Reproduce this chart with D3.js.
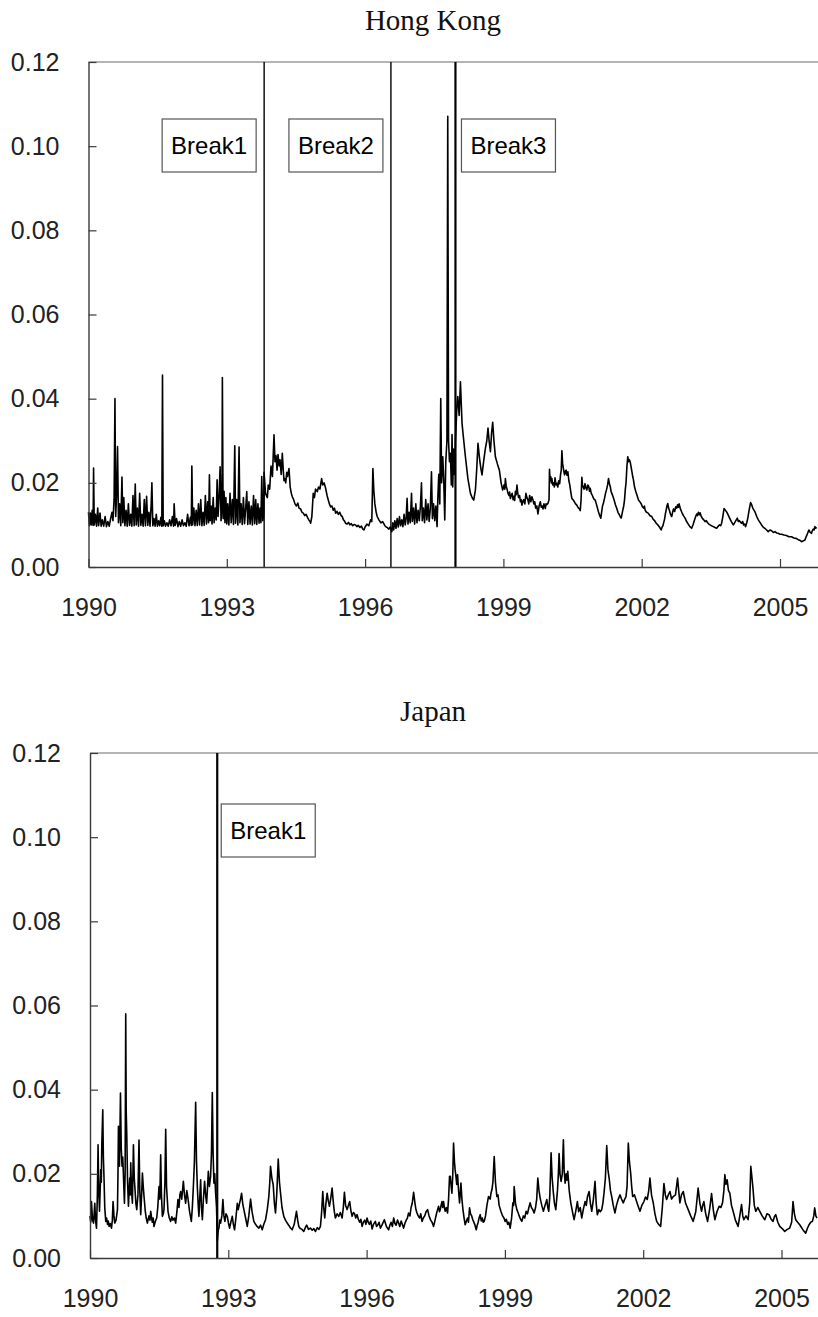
<!DOCTYPE html>
<html>
<head>
<meta charset="utf-8">
<script src="https://cdn.jsdelivr.net/npm/d3@7"></script>
<style>
  body { margin: 0; background: #fff; }
</style>
</head>
<body>
<div id="chart"></div>
<script>
// tick labels
const yearTicks = [1990, 1993, 1996, 1999, 2002, 2005]
const valueTicks = [0, 0.02, 0.04, 0.06, 0.08, 0.10, 0.12]

// structural breaks (decimal year) and their labels
const hongKongBreaks = [1993.81, 1996.56, 1997.96]
const hongKongBreakLabels = ["Break1", "Break2", "Break3"]
const japanBreaks = [1992.76]
const japanBreakLabels = ["Break1"]

// volatility series, [decimal year, value]
const hongKong = [
  [1990.000, .0130], [1990.020, .0098], [1990.040, .0128], [1990.060, .0100], [1990.080, .0135],
  [1990.100, .0099], [1990.110, .0235], [1990.125, .0100], [1990.150, .0125], [1990.175, .0097],
  [1990.200, .0140], [1990.220, .0098], [1990.250, .0128], [1990.275, .0097], [1990.300, .0112],
  [1990.330, .0097], [1990.360, .0120], [1990.390, .0096], [1990.420, .0108], [1990.450, .0097],
  [1990.480, .0115], [1990.510, .0130], [1990.530, .0110], [1990.555, .0160], [1990.574, .0400],
  [1990.590, .0120], [1990.610, .0175], [1990.630, .0286], [1990.650, .0105], [1990.675, .0150],
  [1990.700, .0098], [1990.726, .0214], [1990.745, .0105], [1990.765, .0165], [1990.790, .0098],
  [1990.815, .0135], [1990.840, .0097], [1990.865, .0150], [1990.890, .0099], [1990.915, .0125],
  [1990.940, .0097], [1990.965, .0170], [1990.990, .0098], [1991.014, .0197], [1991.035, .0100],
  [1991.060, .0140], [1991.085, .0097], [1991.110, .0175], [1991.135, .0099], [1991.160, .0125],
  [1991.185, .0097], [1991.210, .0160], [1991.235, .0098], [1991.260, .0168], [1991.285, .0099],
  [1991.310, .0130], [1991.335, .0097], [1991.360, .0150], [1991.375, .0200], [1991.395, .0098],
  [1991.420, .0115], [1991.445, .0097], [1991.470, .0125], [1991.495, .0097], [1991.520, .0110],
  [1991.545, .0098], [1991.570, .0118], [1991.590, .0097], [1991.605, .0456], [1991.620, .0098],
  [1991.645, .0110], [1991.670, .0097], [1991.700, .0105], [1991.730, .0097], [1991.760, .0112],
  [1991.790, .0098], [1991.820, .0120], [1991.845, .0097], [1991.858, .0150], [1991.880, .0099],
  [1991.910, .0115], [1991.940, .0096], [1991.970, .0108], [1992.000, .0097], [1992.030, .0112],
  [1992.060, .0098], [1992.090, .0105], [1992.120, .0097], [1992.150, .0125], [1992.180, .0098],
  [1992.210, .0118], [1992.230, .0099], [1992.242, .0240], [1992.260, .0100], [1992.285, .0140],
  [1992.310, .0098], [1992.335, .0135], [1992.360, .0099], [1992.385, .0150], [1992.410, .0100],
  [1992.435, .0160], [1992.460, .0098], [1992.485, .0130], [1992.510, .0099], [1992.535, .0170],
  [1992.560, .0102], [1992.585, .0155], [1992.605, .0105], [1992.623, .0219], [1992.640, .0110],
  [1992.660, .0145], [1992.680, .0102], [1992.705, .0165], [1992.725, .0105], [1992.750, .0140],
  [1992.770, .0112], [1992.790, .0207], [1992.810, .0120], [1992.830, .0160], [1992.855, .0238],
  [1992.875, .0110], [1992.895, .0150], [1992.904, .0450], [1992.920, .0115], [1992.940, .0180],
  [1992.960, .0105], [1992.980, .0165], [1993.000, .0102], [1993.020, .0150], [1993.045, .0100],
  [1993.070, .0175], [1993.095, .0105], [1993.120, .0160], [1993.145, .0101], [1993.173, .0288],
  [1993.190, .0104], [1993.215, .0160], [1993.240, .0100], [1993.266, .0285], [1993.285, .0105],
  [1993.310, .0150], [1993.335, .0101], [1993.360, .0165], [1993.385, .0103], [1993.410, .0140],
  [1993.433, .0179], [1993.455, .0101], [1993.480, .0155], [1993.505, .0102], [1993.530, .0145],
  [1993.555, .0100], [1993.580, .0170], [1993.605, .0103], [1993.628, .0160], [1993.650, .0101],
  [1993.675, .0150], [1993.700, .0104], [1993.720, .0140], [1993.740, .0105], [1993.758, .0215],
  [1993.780, .0110], [1993.800, .0125], [1993.808, .0225], [1993.840, .0175], [1993.879, .0165],
  [1993.900, .0195], [1993.930, .0185], [1993.959, .0240], [1993.990, .0215], [1994.024, .0314],
  [1994.045, .0250], [1994.068, .0265], [1994.090, .0230], [1994.111, .0267], [1994.135, .0240],
  [1994.154, .0255], [1994.180, .0220], [1994.204, .0270], [1994.225, .0230], [1994.241, .0205],
  [1994.260, .0210], [1994.278, .0200], [1994.300, .0225], [1994.317, .0215], [1994.349, .0234],
  [1994.375, .0190], [1994.400, .0175], [1994.421, .0167], [1994.450, .0160], [1994.479, .0150],
  [1994.510, .0145], [1994.540, .0152], [1994.566, .0140], [1994.600, .0138], [1994.630, .0130],
  [1994.660, .0128], [1994.690, .0122], [1994.720, .0125], [1994.750, .0118], [1994.780, .0112],
  [1994.805, .0108], [1994.819, .0104], [1994.845, .0120], [1994.875, .0175], [1994.900, .0165],
  [1994.925, .0185], [1994.962, .0179], [1994.990, .0190], [1995.020, .0185], [1995.057, .0210],
  [1995.080, .0195], [1995.110, .0200], [1995.144, .0187], [1995.175, .0170], [1995.200, .0160],
  [1995.225, .0150], [1995.252, .0143], [1995.280, .0145], [1995.310, .0135], [1995.335, .0140],
  [1995.361, .0128], [1995.390, .0132], [1995.420, .0125], [1995.450, .0130], [1995.480, .0122],
  [1995.504, .0120], [1995.530, .0112], [1995.560, .0108], [1995.577, .0104], [1995.610, .0102],
  [1995.640, .0106], [1995.670, .0100], [1995.700, .0103], [1995.730, .0098], [1995.760, .0101],
  [1995.794, .0100], [1995.820, .0096], [1995.850, .0099], [1995.887, .0094], [1995.920, .0097],
  [1995.950, .0090], [1995.974, .0088], [1996.000, .0095], [1996.039, .0102], [1996.080, .0098],
  [1996.119, .0112], [1996.145, .0108], [1996.169, .0234], [1996.190, .0180], [1996.212, .0150],
  [1996.240, .0130], [1996.262, .0120], [1996.300, .0112], [1996.342, .0105], [1996.380, .0108],
  [1996.420, .0100], [1996.444, .0096], [1996.480, .0094], [1996.515, .0090], [1996.545, .0095],
  [1996.580, .0084], [1996.600, .0105], [1996.620, .0088], [1996.645, .0110], [1996.670, .0092],
  [1996.695, .0115], [1996.720, .0095], [1996.745, .0120], [1996.770, .0098], [1996.795, .0112],
  [1996.820, .0096], [1996.845, .0125], [1996.870, .0100], [1996.890, .0115], [1996.911, .0163],
  [1996.930, .0102], [1996.955, .0130], [1996.980, .0105], [1997.007, .0175], [1997.025, .0108],
  [1997.050, .0140], [1997.075, .0102], [1997.100, .0150], [1997.125, .0105], [1997.150, .0135],
  [1997.175, .0110], [1997.200, .0145], [1997.223, .0200], [1997.240, .0110], [1997.265, .0140],
  [1997.290, .0105], [1997.315, .0160], [1997.340, .0112], [1997.365, .0150], [1997.390, .0108],
  [1997.415, .0140], [1997.440, .0226], [1997.460, .0115], [1997.485, .0150], [1997.510, .0110],
  [1997.535, .0145], [1997.561, .0096], [1997.580, .0170], [1997.598, .0220], [1997.620, .0150],
  [1997.641, .0400], [1997.660, .0200], [1997.685, .0262], [1997.706, .0207], [1997.728, .0112],
  [1997.750, .0250], [1997.775, .0300], [1997.793, .1071], [1997.810, .0300], [1997.830, .0250],
  [1997.851, .0270], [1997.870, .0195], [1997.886, .0315], [1997.901, .0190], [1997.920, .0280],
  [1997.940, .0220], [1997.960, .0300], [1997.994, .0388], [1998.010, .0405], [1998.040, .0360],
  [1998.068, .0440], [1998.085, .0390], [1998.103, .0341], [1998.140, .0300], [1998.176, .0262],
  [1998.230, .0210], [1998.285, .0175], [1998.320, .0165], [1998.356, .0159], [1998.393, .0183],
  [1998.420, .0230], [1998.449, .0294], [1998.480, .0260], [1998.510, .0235], [1998.536, .0219],
  [1998.570, .0250], [1998.609, .0282], [1998.640, .0300], [1998.666, .0330], [1998.690, .0300],
  [1998.718, .0274], [1998.745, .0320], [1998.768, .0344], [1998.795, .0300], [1998.826, .0262],
  [1998.870, .0245], [1998.913, .0230], [1998.950, .0200], [1998.984, .0183], [1999.015, .0195],
  [1999.030, .0185], [1999.043, .0210], [1999.060, .0192], [1999.080, .0185], [1999.100, .0175],
  [1999.120, .0170], [1999.135, .0178], [1999.151, .0163], [1999.170, .0170], [1999.190, .0175],
  [1999.210, .0160], [1999.230, .0168], [1999.245, .0158], [1999.260, .0180], [1999.278, .0172],
  [1999.294, .0195], [1999.312, .0175], [1999.330, .0165], [1999.350, .0170], [1999.370, .0155],
  [1999.386, .0160], [1999.402, .0147], [1999.420, .0155], [1999.440, .0160], [1999.465, .0150],
  [1999.489, .0175], [1999.510, .0165], [1999.530, .0160], [1999.550, .0150], [1999.570, .0170],
  [1999.595, .0155], [1999.619, .0167], [1999.640, .0160], [1999.660, .0150], [1999.680, .0155],
  [1999.700, .0140], [1999.725, .0145], [1999.749, .0126], [1999.775, .0145], [1999.801, .0155],
  [1999.820, .0142], [1999.840, .0145], [1999.860, .0138], [1999.880, .0150], [1999.895, .0145],
  [1999.909, .0139], [1999.925, .0150], [1999.940, .0148], [1999.965, .0151], [1999.990, .0160],
  [2000.000, .0232], [2000.012, .0205], [2000.025, .0215], [2000.040, .0200], [2000.052, .0210],
  [2000.070, .0195], [2000.090, .0200], [2000.105, .0190], [2000.120, .0212], [2000.140, .0195],
  [2000.160, .0199], [2000.180, .0190], [2000.200, .0205], [2000.220, .0198], [2000.240, .0220],
  [2000.255, .0230], [2000.269, .0276], [2000.285, .0245], [2000.300, .0235], [2000.315, .0225],
  [2000.327, .0219], [2000.345, .0228], [2000.360, .0230], [2000.380, .0218], [2000.399, .0226],
  [2000.420, .0205], [2000.440, .0195], [2000.462, .0178], [2000.485, .0163], [2000.510, .0160],
  [2000.540, .0155], [2000.565, .0150], [2000.593, .0147], [2000.612, .0143], [2000.630, .0140],
  [2000.650, .0138], [2000.667, .0134], [2000.685, .0160], [2000.702, .0213], [2000.715, .0195],
  [2000.730, .0190], [2000.750, .0185], [2000.770, .0198], [2000.790, .0188], [2000.810, .0183],
  [2000.830, .0195], [2000.850, .0192], [2000.868, .0180], [2000.884, .0187], [2000.905, .0175],
  [2000.930, .0170], [2000.960, .0162], [2000.992, .0159], [2001.015, .0150], [2001.040, .0140],
  [2001.060, .0132], [2001.080, .0125], [2001.097, .0120], [2001.113, .0116], [2001.130, .0130],
  [2001.150, .0145], [2001.170, .0152], [2001.193, .0163], [2001.215, .0175], [2001.240, .0185],
  [2001.260, .0195], [2001.280, .0210], [2001.300, .0198], [2001.320, .0190], [2001.335, .0180],
  [2001.352, .0175], [2001.375, .0168], [2001.400, .0160], [2001.430, .0148], [2001.460, .0139],
  [2001.485, .0130], [2001.510, .0125], [2001.533, .0120], [2001.555, .0116], [2001.572, .0125],
  [2001.590, .0135], [2001.610, .0145], [2001.627, .0159], [2001.645, .0185], [2001.660, .0200],
  [2001.680, .0240], [2001.698, .0262], [2001.715, .0250], [2001.730, .0255], [2001.750, .0250],
  [2001.770, .0238], [2001.790, .0225], [2001.805, .0215], [2001.821, .0207], [2001.845, .0190],
  [2001.870, .0180], [2001.900, .0170], [2001.930, .0159], [2001.960, .0155], [2001.990, .0150],
  [2002.015, .0143], [2002.040, .0140], [2002.058, .0145], [2002.075, .0135], [2002.105, .0130],
  [2002.140, .0128], [2002.180, .0122], [2002.218, .0120], [2002.250, .0113], [2002.280, .0110],
  [2002.315, .0104], [2002.350, .0100], [2002.385, .0095], [2002.422, .0088], [2002.440, .0094],
  [2002.460, .0098], [2002.478, .0106], [2002.493, .0112], [2002.512, .0125], [2002.530, .0135],
  [2002.548, .0145], [2002.565, .0151], [2002.583, .0140], [2002.600, .0135], [2002.625, .0125],
  [2002.651, .0120], [2002.670, .0130], [2002.690, .0138], [2002.715, .0132], [2002.738, .0143],
  [2002.760, .0140], [2002.780, .0148], [2002.795, .0142], [2002.811, .0150], [2002.840, .0138],
  [2002.870, .0130], [2002.905, .0122], [2002.941, .0116], [2002.975, .0108], [2003.010, .0102],
  [2003.045, .0096], [2003.084, .0092], [2003.112, .0100], [2003.140, .0110], [2003.165, .0118],
  [2003.192, .0126], [2003.210, .0122], [2003.230, .0130], [2003.250, .0124], [2003.266, .0129],
  [2003.292, .0120], [2003.320, .0115], [2003.347, .0112], [2003.374, .0108], [2003.400, .0110],
  [2003.430, .0105], [2003.455, .0102], [2003.483, .0100], [2003.515, .0098], [2003.550, .0096],
  [2003.590, .0094], [2003.626, .0092], [2003.660, .0097], [2003.690, .0100], [2003.712, .0098],
  [2003.734, .0104], [2003.760, .0120], [2003.786, .0139], [2003.815, .0135], [2003.842, .0131],
  [2003.870, .0125], [2003.900, .0118], [2003.945, .0108], [2003.987, .0100], [2004.010, .0104],
  [2004.030, .0108], [2004.052, .0112], [2004.074, .0116], [2004.097, .0108], [2004.120, .0110],
  [2004.145, .0106], [2004.167, .0104], [2004.190, .0108], [2004.210, .0100], [2004.232, .0102],
  [2004.254, .0096], [2004.278, .0105], [2004.300, .0115], [2004.330, .0135], [2004.362, .0153],
  [2004.385, .0148], [2004.410, .0140], [2004.435, .0135], [2004.457, .0131], [2004.495, .0120],
  [2004.530, .0112], [2004.565, .0106], [2004.600, .0100], [2004.635, .0095], [2004.670, .0092],
  [2004.710, .0088], [2004.745, .0084], [2004.782, .0088], [2004.820, .0086], [2004.855, .0082],
  [2004.891, .0084], [2004.925, .0081], [2004.960, .0080], [2004.998, .0078], [2005.034, .0078],
  [2005.085, .0076], [2005.140, .0075], [2005.195, .0072], [2005.250, .0072], [2005.300, .0069],
  [2005.350, .0068], [2005.395, .0065], [2005.440, .0063], [2005.467, .0060], [2005.500, .0062],
  [2005.541, .0064], [2005.560, .0070], [2005.580, .0075], [2005.605, .0082], [2005.627, .0088],
  [2005.645, .0084], [2005.660, .0082], [2005.683, .0080], [2005.700, .0086], [2005.720, .0090],
  [2005.740, .0088], [2005.757, .0096], [2005.775, .0092], [2005.790, .0095]
]

const japan = [
  [1990.000, .0100], [1990.016, .0085], [1990.032, .0134], [1990.055, .0090], [1990.076, .0083],
  [1990.090, .0105], [1990.104, .0130], [1990.120, .0090], [1990.141, .0071], [1990.160, .0150],
  [1990.175, .0269], [1990.190, .0160], [1990.206, .0111], [1990.234, .0210], [1990.245, .0180],
  [1990.256, .0269], [1990.277, .0352], [1990.290, .0240], [1990.305, .0186], [1990.320, .0120],
  [1990.342, .0087], [1990.360, .0095], [1990.380, .0080], [1990.396, .0088], [1990.414, .0075],
  [1990.440, .0082], [1990.466, .0071], [1990.485, .0090], [1990.500, .0134], [1990.520, .0100],
  [1990.537, .0083], [1990.565, .0090], [1990.596, .0115], [1990.607, .0200], [1990.617, .0313],
  [1990.628, .0250], [1990.639, .0218], [1990.650, .0300], [1990.661, .0392], [1990.678, .0260],
  [1990.695, .0218], [1990.710, .0240], [1990.726, .0194], [1990.747, .0130], [1990.762, .0200],
  [1990.775, .0580], [1990.785, .0350], [1990.797, .0297], [1990.815, .0180], [1990.834, .0123],
  [1990.848, .0160], [1990.862, .0190], [1990.873, .0150], [1990.884, .0226], [1990.900, .0160],
  [1990.920, .0130], [1990.942, .0269], [1990.960, .0190], [1990.977, .0162], [1990.995, .0130],
  [1991.014, .0115], [1991.040, .0150], [1991.063, .0280], [1991.080, .0160], [1991.100, .0103],
  [1991.120, .0150], [1991.137, .0202], [1991.155, .0170], [1991.172, .0146], [1991.200, .0110],
  [1991.220, .0095], [1991.245, .0083], [1991.262, .0092], [1991.280, .0100], [1991.300, .0090],
  [1991.317, .0111], [1991.350, .0085], [1991.370, .0095], [1991.388, .0075], [1991.420, .0088],
  [1991.447, .0095], [1991.470, .0120], [1991.497, .0170], [1991.515, .0140], [1991.533, .0245],
  [1991.550, .0150], [1991.570, .0099], [1991.590, .0105], [1991.605, .0115], [1991.625, .0180],
  [1991.642, .0306], [1991.660, .0170], [1991.692, .0111], [1991.720, .0095], [1991.750, .0087],
  [1991.775, .0098], [1991.800, .0090], [1991.830, .0095], [1991.858, .0083], [1991.885, .0110],
  [1991.908, .0139], [1991.930, .0120], [1991.950, .0150], [1991.967, .0158], [1991.990, .0140],
  [1992.025, .0182], [1992.050, .0150], [1992.075, .0130], [1992.100, .0160], [1992.125, .0142],
  [1992.160, .0110], [1992.198, .0087], [1992.220, .0120], [1992.242, .0170], [1992.265, .0230],
  [1992.292, .0370], [1992.310, .0230], [1992.328, .0170], [1992.345, .0130], [1992.363, .0099],
  [1992.380, .0140], [1992.400, .0186], [1992.418, .0120], [1992.437, .0091], [1992.460, .0140],
  [1992.486, .0182], [1992.508, .0150], [1992.530, .0130], [1992.550, .0170], [1992.567, .0206],
  [1992.590, .0170], [1992.616, .0194], [1992.635, .0250], [1992.653, .0393], [1992.670, .0250],
  [1992.688, .0178], [1992.705, .0200], [1992.725, .0154], [1992.745, .0120], [1992.762, .0040],
  [1992.780, .0065], [1992.796, .0071], [1992.815, .0090], [1992.833, .0083], [1992.860, .0100],
  [1992.883, .0139], [1992.905, .0100], [1992.926, .0087], [1992.950, .0105], [1992.978, .0099],
  [1993.000, .0085], [1993.028, .0071], [1993.055, .0085], [1993.086, .0099], [1993.110, .0080],
  [1993.136, .0067], [1993.165, .0095], [1993.195, .0130], [1993.215, .0115], [1993.238, .0127],
  [1993.265, .0140], [1993.288, .0154], [1993.312, .0130], [1993.338, .0115], [1993.375, .0095],
  [1993.411, .0075], [1993.445, .0100], [1993.483, .0140], [1993.515, .0110], [1993.554, .0087],
  [1993.590, .0080], [1993.625, .0075], [1993.663, .0071], [1993.700, .0078], [1993.736, .0067],
  [1993.770, .0080], [1993.808, .0091], [1993.845, .0115], [1993.879, .0146], [1993.900, .0180],
  [1993.916, .0218], [1993.945, .0190], [1993.974, .0174], [1994.000, .0130], [1994.024, .0107],
  [1994.050, .0150], [1994.070, .0200], [1994.083, .0235], [1994.110, .0180], [1994.133, .0154],
  [1994.165, .0120], [1994.204, .0099], [1994.240, .0090], [1994.278, .0083], [1994.310, .0078],
  [1994.345, .0072], [1994.386, .0067], [1994.430, .0080], [1994.479, .0111], [1994.505, .0090],
  [1994.529, .0075], [1994.560, .0070], [1994.600, .0068], [1994.637, .0063], [1994.670, .0072],
  [1994.700, .0078], [1994.740, .0068], [1994.782, .0071], [1994.820, .0066], [1994.855, .0070],
  [1994.891, .0063], [1994.930, .0072], [1994.965, .0068], [1994.999, .0075], [1995.025, .0110],
  [1995.049, .0158], [1995.070, .0120], [1995.092, .0095], [1995.118, .0130], [1995.144, .0154],
  [1995.170, .0135], [1995.194, .0123], [1995.220, .0140], [1995.252, .0166], [1995.280, .0130],
  [1995.300, .0110], [1995.324, .0095], [1995.360, .0105], [1995.395, .0099], [1995.430, .0108],
  [1995.469, .0095], [1995.495, .0120], [1995.519, .0156], [1995.545, .0125], [1995.577, .0115],
  [1995.605, .0125], [1995.633, .0134], [1995.660, .0112], [1995.686, .0099], [1995.715, .0108],
  [1995.740, .0105], [1995.765, .0095], [1995.794, .0103], [1995.820, .0092], [1995.850, .0085],
  [1995.875, .0092], [1995.902, .0075], [1995.930, .0085], [1995.960, .0090], [1995.985, .0080],
  [1996.010, .0095], [1996.035, .0085], [1996.060, .0080], [1996.090, .0088], [1996.119, .0069],
  [1996.150, .0080], [1996.190, .0087], [1996.215, .0075], [1996.240, .0078], [1996.270, .0085],
  [1996.299, .0071], [1996.340, .0080], [1996.385, .0091], [1996.430, .0075], [1996.478, .0067],
  [1996.505, .0078], [1996.530, .0085], [1996.560, .0075], [1996.587, .0095], [1996.615, .0082],
  [1996.640, .0078], [1996.670, .0090], [1996.695, .0083], [1996.720, .0075], [1996.750, .0088],
  [1996.775, .0080], [1996.803, .0071], [1996.830, .0082], [1996.860, .0090], [1996.885, .0095],
  [1996.911, .0107], [1996.940, .0100], [1996.965, .0120], [1996.990, .0130], [1997.020, .0156],
  [1997.050, .0130], [1997.070, .0115], [1997.093, .0107], [1997.120, .0100], [1997.150, .0095],
  [1997.175, .0105], [1997.202, .0087], [1997.230, .0095], [1997.260, .0100], [1997.290, .0110],
  [1997.323, .0115], [1997.355, .0100], [1997.390, .0090], [1997.420, .0085], [1997.453, .0075],
  [1997.485, .0090], [1997.515, .0105], [1997.540, .0115], [1997.561, .0123], [1997.580, .0110],
  [1997.598, .0115], [1997.615, .0125], [1997.635, .0134], [1997.650, .0120], [1997.669, .0134],
  [1997.690, .0118], [1997.706, .0111], [1997.730, .0120], [1997.756, .0107], [1997.778, .0140],
  [1997.799, .0194], [1997.815, .0194], [1997.835, .0170], [1997.851, .0154], [1997.870, .0200],
  [1997.886, .0273], [1997.905, .0230], [1997.920, .0210], [1997.938, .0194], [1997.955, .0175],
  [1997.973, .0198], [1997.995, .0160], [1998.016, .0131], [1998.030, .0150], [1998.046, .0178],
  [1998.068, .0140], [1998.090, .0115], [1998.115, .0095], [1998.139, .0079], [1998.165, .0088],
  [1998.190, .0095], [1998.210, .0085], [1998.233, .0119], [1998.255, .0105], [1998.280, .0100],
  [1998.300, .0092], [1998.319, .0087], [1998.345, .0080], [1998.378, .0067], [1998.400, .0078],
  [1998.420, .0085], [1998.440, .0095], [1998.464, .0103], [1998.487, .0088], [1998.510, .0095],
  [1998.530, .0085], [1998.551, .0087], [1998.580, .0100], [1998.610, .0125], [1998.644, .0146],
  [1998.680, .0140], [1998.700, .0155], [1998.718, .0162], [1998.740, .0180], [1998.768, .0241],
  [1998.795, .0180], [1998.826, .0146], [1998.850, .0150], [1998.875, .0125], [1998.913, .0111],
  [1998.950, .0100], [1998.980, .0095], [1999.006, .0087], [1999.030, .0092], [1999.060, .0080],
  [1999.085, .0085], [1999.114, .0071], [1999.145, .0095], [1999.173, .0131], [1999.190, .0125],
  [1999.201, .0170], [1999.230, .0130], [1999.259, .0115], [1999.285, .0108], [1999.310, .0100],
  [1999.340, .0092], [1999.368, .0087], [1999.400, .0100], [1999.430, .0095], [1999.461, .0111],
  [1999.490, .0105], [1999.520, .0120], [1999.547, .0131], [1999.575, .0120], [1999.605, .0115],
  [1999.634, .0107], [1999.665, .0120], [1999.690, .0140], [1999.714, .0190], [1999.740, .0160],
  [1999.764, .0143], [1999.800, .0125], [1999.835, .0111], [1999.870, .0125], [1999.909, .0139],
  [1999.930, .0120], [1999.952, .0111], [1999.975, .0150], [2000.002, .0250], [2000.025, .0190],
  [2000.052, .0154], [2000.075, .0130], [2000.104, .0115], [2000.140, .0160], [2000.160, .0200],
  [2000.176, .0248], [2000.195, .0200], [2000.219, .0182], [2000.245, .0200], [2000.269, .0281],
  [2000.285, .0210], [2000.306, .0178], [2000.330, .0200], [2000.345, .0185], [2000.364, .0206],
  [2000.395, .0160], [2000.429, .0131], [2000.465, .0110], [2000.501, .0091], [2000.535, .0110],
  [2000.572, .0134], [2000.600, .0110], [2000.635, .0120], [2000.667, .0095], [2000.700, .0115],
  [2000.739, .0134], [2000.765, .0125], [2000.790, .0145], [2000.826, .0158], [2000.855, .0130],
  [2000.884, .0111], [2000.920, .0140], [2000.955, .0182], [2000.980, .0130], [2001.005, .0103],
  [2001.040, .0115], [2001.070, .0110], [2001.100, .0115], [2001.125, .0130], [2001.150, .0154],
  [2001.180, .0190], [2001.209, .0267], [2001.235, .0210], [2001.265, .0186], [2001.290, .0160],
  [2001.317, .0146], [2001.350, .0125], [2001.388, .0107], [2001.420, .0125], [2001.460, .0140],
  [2001.497, .0150], [2001.530, .0140], [2001.568, .0131], [2001.600, .0140], [2001.627, .0146],
  [2001.650, .0170], [2001.677, .0273], [2001.700, .0230], [2001.728, .0202], [2001.750, .0170],
  [2001.772, .0146], [2001.810, .0150], [2001.843, .0139], [2001.885, .0125], [2001.930, .0111],
  [2001.970, .0125], [2002.016, .0134], [2002.050, .0145], [2002.088, .0139], [2002.120, .0160],
  [2002.146, .0190], [2002.180, .0150], [2002.218, .0131], [2002.255, .0105], [2002.292, .0087],
  [2002.335, .0080], [2002.378, .0075], [2002.415, .0120], [2002.450, .0177], [2002.480, .0150],
  [2002.508, .0139], [2002.545, .0150], [2002.580, .0158], [2002.615, .0140], [2002.651, .0146],
  [2002.700, .0150], [2002.746, .0190], [2002.770, .0160], [2002.796, .0131], [2002.830, .0150],
  [2002.868, .0158], [2002.920, .0130], [2002.976, .0115], [2003.030, .0100], [2003.084, .0087],
  [2003.140, .0110], [2003.192, .0166], [2003.230, .0130], [2003.266, .0111], [2003.290, .0125],
  [2003.316, .0134], [2003.355, .0105], [2003.396, .0087], [2003.440, .0115], [2003.483, .0153],
  [2003.520, .0115], [2003.554, .0091], [2003.600, .0110], [2003.647, .0123], [2003.685, .0120],
  [2003.721, .0131], [2003.750, .0160], [2003.771, .0198], [2003.795, .0175], [2003.821, .0186],
  [2003.850, .0160], [2003.879, .0154], [2003.915, .0125], [2003.951, .0111], [2004.000, .0090],
  [2004.059, .0075], [2004.095, .0100], [2004.133, .0127], [2004.160, .0100], [2004.183, .0091],
  [2004.230, .0100], [2004.276, .0091], [2004.310, .0130], [2004.334, .0218], [2004.360, .0190],
  [2004.384, .0162], [2004.410, .0125], [2004.442, .0111], [2004.485, .0120], [2004.529, .0111],
  [2004.580, .0100], [2004.637, .0091], [2004.685, .0105], [2004.730, .0103], [2004.775, .0092],
  [2004.817, .0087], [2004.845, .0098], [2004.875, .0103], [2004.920, .0085], [2004.962, .0075],
  [2005.015, .0070], [2005.070, .0063], [2005.125, .0068], [2005.178, .0071], [2005.220, .0085],
  [2005.250, .0134], [2005.280, .0105], [2005.309, .0091], [2005.350, .0085], [2005.395, .0079],
  [2005.460, .0068], [2005.525, .0059], [2005.560, .0070], [2005.597, .0079], [2005.635, .0085],
  [2005.670, .0087], [2005.700, .0100], [2005.720, .0119], [2005.745, .0100], [2005.770, .0095]
]

const width = 818
const height = 1317
const axisColor = "#3a3a3a"
const sansFont = "'Liberation Sans', Arial, sans-serif"
const serifFont = "'Liberation Serif', 'Times New Roman', serif"

// panel layout: where each plot sits on the page
const panels = [
  {
    title: "Hong Kong", data: hongKong, breaks: hongKongBreaks, labels: hongKongBreakLabels,
    left: 88.5, top: 62, bottom: 567, titleY: 29.5, boxTop: 119,
    boxes: [{ side: "left", gap: 8 }, { side: "left", gap: 8 }, { side: "right", gap: 6 }],
    breakWidth: [1.4, 1.4, 2.2]
  },
  {
    title: "Japan", data: japan, breaks: japanBreaks, labels: japanBreakLabels,
    left: 90, top: 753, bottom: 1258, titleY: 720.5, boxTop: 804,
    boxes: [{ side: "right", gap: 4 }],
    breakWidth: [2.2]
  }
]

const svg = d3.select("#chart")
    .append("svg")
    .attr("width", width)
    .attr("height", height)
    .style("background", "#fff")

panels.forEach(p => {

    const x = d3.scaleLinear()
        .domain([1990, 2005.83])
        .range([p.left, p.left + 15.83 * 46.1])

    const y = d3.scaleLinear()
        .domain([0, 0.12])
        .range([p.bottom, p.top])

    const g = svg.append("g")

    // title
    g.append("text")
        .attr("x", 433)
        .attr("y", p.titleY)
        .attr("text-anchor", "middle")
        .attr("font-family", serifFont)
        .attr("font-size", 29)
        .attr("fill", "#111")
        .text(p.title)

    // top frame line
    g.append("line")
        .attr("x1", p.left).attr("x2", width)
        .attr("y1", p.top).attr("y2", p.top)
        .attr("stroke", "#6a6a6a")
        .attr("stroke-width", 1.2)

    // series
    const line = d3.line()
        .x(d => x(d[0]))
        .y(d => y(d[1]))

    g.append("path")
        .datum(p.data)
        .attr("d", line)
        .attr("fill", "none")
        .attr("stroke", "#000")
        .attr("stroke-width", 1.6)
        .attr("stroke-linejoin", "round")

    // break lines
    g.selectAll(".break")
        .data(p.breaks)
        .enter()
        .append("line")
        .attr("x1", d => x(d)).attr("x2", d => x(d))
        .attr("y1", p.top).attr("y2", p.bottom)
        .attr("stroke", "#000")
        .attr("stroke-width", (d, i) => p.breakWidth[i])

    // break label boxes
    const boxW = 94, boxH = 53
    p.breaks.forEach((b, i) => {
        const bx = p.boxes[i].side === "left"
            ? x(b) - p.boxes[i].gap - boxW
            : x(b) + p.boxes[i].gap
        g.append("rect")
            .attr("x", bx).attr("y", p.boxTop)
            .attr("width", boxW).attr("height", boxH)
            .attr("fill", "#fff")
            .attr("stroke", "#555")
            .attr("stroke-width", 1.2)
        g.append("text")
            .attr("x", bx + boxW / 2)
            .attr("y", p.boxTop + boxH / 2)
            .attr("dy", "0.36em")
            .attr("text-anchor", "middle")
            .attr("font-family", sansFont)
            .attr("font-size", 24)
            .attr("fill", "#000")
            .text(p.labels[i])
    })

    // axes
    const yAxis = g.append("g")
        .attr("transform", `translate(${p.left},0)`)
        .call(d3.axisLeft(y)
            .tickValues(valueTicks)
            .tickFormat(d3.format(".2f"))
            .tickSizeInner(-8)
            .tickSizeOuter(0)
            .tickPadding(29))

    const xAxis = g.append("g")
        .attr("transform", `translate(0,${p.bottom})`)
        .call(d3.axisBottom(x)
            .tickValues(yearTicks)
            .tickFormat(d3.format("d"))
            .tickSizeInner(-8)
            .tickSizeOuter(0)
            .tickPadding(31))

    ;[xAxis, yAxis].forEach(a => {
        a.select(".domain").attr("stroke", axisColor).attr("stroke-width", 1.4)
        a.selectAll(".tick line").attr("stroke", axisColor).attr("stroke-width", 1.2)
        a.selectAll(".tick text")
            .attr("font-family", sansFont)
            .attr("font-size", 25)
            .attr("fill", "#222")
    })
})
</script>
</body>
</html>
